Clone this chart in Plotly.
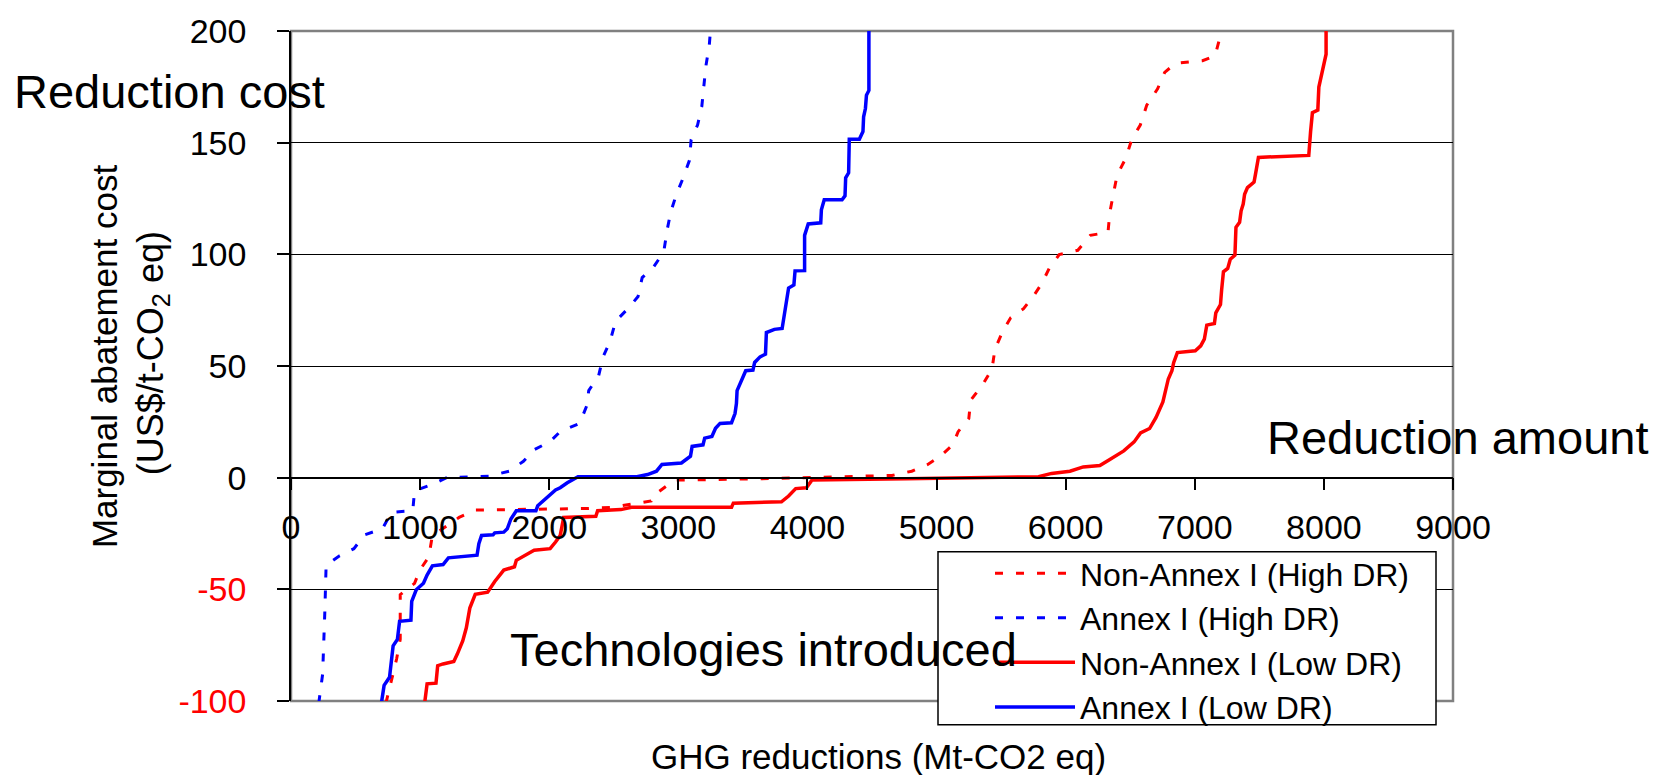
import plotly.graph_objects as go

# ---------------- data ----------------
series_names = ["Non-Annex I (High DR)", "Annex I (High DR)",
                "Non-Annex I (Low DR)", "Annex I (Low DR)"]

nonannex_high_x = [735, 818, 846, 846, 957, 998, 1067, 1095, 1191, 1302, 1427, 1980, 2306, 2486,
                   2637, 2790, 2804, 2887, 2970, 3633, 4020, 4655, 4808, 4932, 5029, 5126, 5167,
                   5250, 5264, 5361, 5430, 5452, 5513, 5574, 5674, 5748, 5817, 5872, 5950, 6094,
                   6191, 6328, 6342, 6370, 6398, 6466, 6511, 6578, 6628, 6712, 6767, 6851, 7060,
                   7157, 7194, 7255]
nonannex_high_y = [-101, -81.2, -72.4, -52.4, -47.3, -41.4, -35.5, -25.9, -22.2, -17.8, -14.5,
                   -14.1, -13.8, -13.3, -11.9, -10.4, -8.2, -4.5, -1.1, -0.5, 0, 1, 2.9, 5.9, 9.6,
                   14.7, 20.6, 26.5, 34.6, 42, 48.7, 57.5, 65.6, 71.6, 75.7, 81.1, 87.1, 93.7,
                   99.9, 101.8, 108.5, 109.9, 118.8, 127.6, 135.4, 143.1, 151.3, 157.9, 166.8,
                   174.1, 181.5, 185.5, 186.7, 188.9, 197, 202.7]

annex_high_x = [215, 245, 262, 268, 272, 376, 487, 570, 708, 777, 943, 957, 1095, 1205, 1537,
                1689, 1800, 1883, 2007, 2085, 2236, 2292, 2306, 2383, 2417, 2472, 2514, 2610,
                2688, 2720, 2809, 2887, 2914, 2942, 2983, 3038, 3086, 3099, 3149, 3182, 3198,
                3213, 3240, 3252]
annex_high_y = [-101, -88, -60, -49.5, -39.2, -35, -31.8, -25.6, -22.9, -15.5, -14.8, -5.9, -3,
                0, 0.7, 2.9, 7.3, 12.5, 16.2, 20.6, 24.3, 32.4, 39, 45.7, 54.1, 61.2, 70, 75.7,
                81.1, 89.6, 94.4, 101.1, 111.1, 119.1, 126.5, 134.3, 142.1, 151.3, 157.9, 166.3,
                175.2, 184.1, 193.8, 202.7]

nonannex_low_x = [1034, 1054, 1123, 1136, 1178, 1261, 1288, 1330, 1358, 1385, 1427, 1523, 1578,
                  1648, 1731, 1745, 1883, 2007, 2049, 2085, 2112, 2361, 2375, 2555, 2637, 3412,
                  3426, 3799, 3854, 3909, 3992, 4034, 4766, 5790, 5891, 6033, 6136, 6265, 6342,
                  6384, 6450, 6530, 6580, 6650, 6700, 6753, 6781, 6795, 6823, 6837, 6865, 7004,
                  7046, 7074, 7093, 7152, 7163, 7199, 7208, 7222, 7255, 7275, 7311, 7319, 7347,
                  7359, 7375, 7386, 7408, 7459, 7470, 7493, 7883, 7888, 7897, 7911, 7953, 7961,
                  7980, 7994, 8017, 8017]
nonannex_low_y = [-101.5, -92.3, -92, -84.2, -83.4, -82.3, -79, -73.1, -67.2, -58.4, -52.2, -51.3,
                  -46.5, -41.4, -39.9, -37, -32.5, -31.8, -28.8, -25.9, -17.8, -17.3, -14.8,
                  -14.3, -13.3, -13.3, -11.4, -10.8, -8.2, -4.9, -4.5, -1.1, -0.5, 0.4, 1.9,
                  2.9, 4.8, 5.4, 8.1, 9.8, 12, 16, 20, 22, 27, 33.9, 42, 44.2, 47.9, 51.6, 56,
                  56.8, 59, 62, 68.3, 69, 73.8, 77.5, 84.1, 92.2, 93.7, 97.8, 99.6, 112.1,
                  114.3, 119.5, 122.5, 126.9, 129.9, 132.4, 135.8, 143.4, 144.3, 149.8, 155,
                  163.4, 164.6, 174.9, 180.1, 185.2, 189.6, 202.9]

annex_low_x = [700, 721, 763, 791, 824, 841, 929, 935, 970, 1026, 1054, 1095, 1178, 1219, 1441,
               1455, 1476, 1565, 1578, 1648, 1675, 1703, 1745, 1897, 1911, 1952, 1993, 2049,
               2085, 2140, 2223, 2679, 2762, 2831, 2873, 3024, 3094, 3107, 3191, 3204, 3260,
               3288, 3323, 3412, 3439, 3450, 3455, 3494, 3522, 3578, 3591, 3633, 3675, 3682,
               3744, 3804, 3821, 3840, 3854, 3895, 3904, 3978, 3978, 4006, 4103, 4108, 4130,
               4268, 4291, 4296, 4319, 4324, 4402, 4430, 4435, 4449, 4457, 4476, 4476]
annex_low_y = [-101, -93, -89.4, -75.3, -72.4, -64.3, -63.8, -55.4, -50.2, -47.3, -43.6, -39.5,
               -38.9, -35.9, -34.7, -29.6, -25.9, -25.6, -24.7, -24.4, -22.9, -18.5, -14.8,
               -14.8, -12.6, -10.4, -8.2, -5.5, -4.5, -2.3, 0.4, 0.4, 1.4, 2.9, 5.9, 6.6, 9.6,
               14, 14.7, 17.7, 18.4, 22.1, 24.3, 24.6, 28.7, 33.2, 39, 44.2, 47.9, 48.2, 51.6,
               54.1, 55.3, 65, 66.4, 66.8, 73.8, 79.7, 84.9, 86.3, 92.6, 92.7, 108.5, 113.6,
               114.1, 120, 124.4, 124.4, 126.2, 134.3, 136.5, 151.5, 151.5, 155, 161.6, 165.3,
               171.2, 173.4, 203]

y_tickvals = [-100, -50, 0, 50, 100, 150, 200]
y_ticktext = ['<span style="color:#FF0000">-100</span>', '<span style="color:#FF0000">-50</span>',
              "0", "50", "100", "150", "200"]
x_tickvals = [0, 1000, 2000, 3000, 4000, 5000, 6000, 7000, 8000, 9000]
x_ticktext = [str(v) for v in x_tickvals]

FONT = "Liberation Sans, Arial, sans-serif"
RED = "#FF0000"
BLUE = "#0000FF"

fig = go.Figure()
fig.add_trace(go.Scatter(x=nonannex_high_x, y=nonannex_high_y, mode="lines", name=series_names[0],
                         line=dict(color=RED, width=3, dash="8px,13px")))
fig.add_trace(go.Scatter(x=annex_high_x, y=annex_high_y, mode="lines", name=series_names[1],
                         line=dict(color=BLUE, width=3, dash="8px,13px")))
fig.add_trace(go.Scatter(x=nonannex_low_x, y=nonannex_low_y, mode="lines", name=series_names[2],
                         line=dict(color=RED, width=3.5)))
fig.add_trace(go.Scatter(x=annex_low_x, y=annex_low_y, mode="lines", name=series_names[3],
                         line=dict(color=BLUE, width=3.5)))

L, R, T, B = 291, 212, 23, 74
W, H = 1665, 775
PW, PH = W - L - R, H - T - B


def px(xpix):
    return (xpix - L) / PW


def py(ypix):
    return (H - B - ypix) / PH


fig.update_layout(
    width=W, height=H, autosize=False,
    margin=dict(l=L, r=R, t=T, b=B, pad=0),
    paper_bgcolor="white", plot_bgcolor="white",
    font=dict(family=FONT, size=33, color="black"),
    showlegend=True,
    legend=dict(x=px(938), y=py(544), xanchor="left", yanchor="top",
                bgcolor="rgba(0,0,0,0)", borderwidth=0,
                font=dict(family=FONT, size=32, color="black"),
                itemwidth=80, indentation=52, tracegroupgap=0),
    xaxis=dict(range=[0, 9000], tickvals=x_tickvals, ticktext=x_ticktext,
               anchor="free", position=1 / 3, showgrid=False, zeroline=False,
               showline=True, linecolor="black", linewidth=1.5,
               ticks="outside", ticklen=12, tickwidth=1.5, tickcolor="black",
               tickfont=dict(family=FONT, size=34, color="black"),
               ticklabelstandoff=8),
    yaxis=dict(range=[-100, 200], tickvals=y_tickvals, ticktext=y_ticktext,
               showgrid=True, gridcolor="black", gridwidth=1.3, zeroline=False,
               showline=True, linecolor="black", linewidth=1.5,
               ticks="outside", ticklen=12, tickwidth=1.5, tickcolor="black",
               tickfont=dict(family=FONT, size=34, color="black"),
               ticklabelstandoff=24),
    shapes=[
        # plot-area border (grey)
        dict(type="rect", xref="paper", yref="paper", x0=0, x1=1, y0=0, y1=1,
             line=dict(color="#808080", width=2.5), layer="between"),
        # legend frame (white box with black border)
        dict(type="rect", xref="paper", yref="paper", x0=px(938), x1=px(1436),
             y0=py(725), y1=py(550), fillcolor="white",
             line=dict(color="black", width=1.5), layer="above"),
    ],
    annotations=[
        dict(text="Reduction cost", xref="paper", yref="paper", x=px(12), y=py(84),
             xanchor="left", yanchor="middle", showarrow=False,
             font=dict(family=FONT, size=47, color="black")),
        dict(text="Reduction amount", xref="paper", yref="paper", x=px(1265), y=py(434),
             xanchor="left", yanchor="middle", showarrow=False,
             font=dict(family=FONT, size=47, color="black")),
        dict(text="Technologies introduced", xref="paper", yref="paper", x=px(508), y=py(649),
             xanchor="left", yanchor="middle", showarrow=False,
             font=dict(family=FONT, size=47, color="black")),
        dict(text="GHG reductions (Mt-CO2 eq)", xref="paper", yref="paper", x=px(878), y=py(757),
             xanchor="center", yanchor="middle", showarrow=False,
             font=dict(family=FONT, size=35, color="black")),
        dict(text="Marginal abatement cost", xref="paper", yref="paper", x=px(104), y=py(352),
             xanchor="center", yanchor="middle", showarrow=False, textangle=-90,
             font=dict(family=FONT, size=35, color="black")),
        dict(text="(US$/t-CO<sub>2</sub> eq)", xref="paper", yref="paper", x=px(153), y=py(349),
             xanchor="center", yanchor="middle", showarrow=False, textangle=-90,
             font=dict(family=FONT, size=36, color="black")),
    ],
)

fig.write_html("out.html", config={"displayModeBar": False},
               post_script="document.body.style.margin='0';document.body.style.overflow='hidden';")
